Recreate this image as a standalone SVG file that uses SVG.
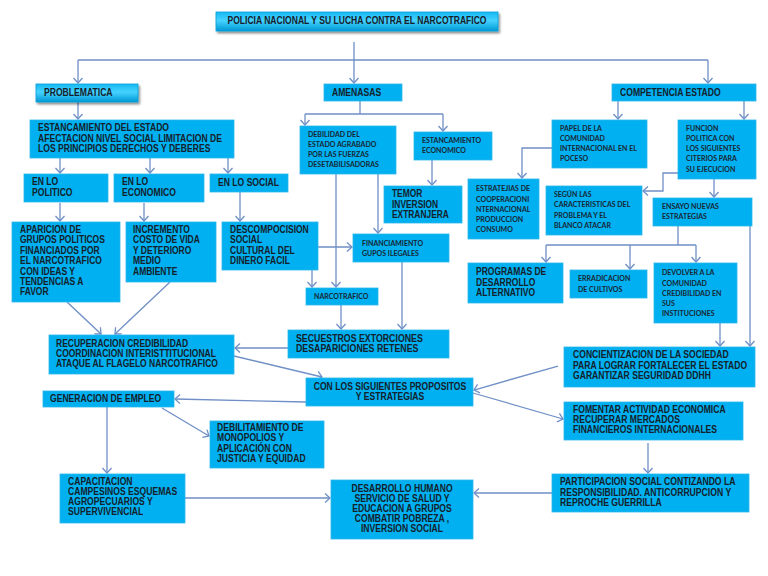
<svg xmlns="http://www.w3.org/2000/svg" width="768" height="576" viewBox="0 0 768 576">
<style>
.b{fill:#00B0F0;stroke:#2cb6ea;stroke-width:0.8}
.t{font-family:"Liberation Sans",Arial,sans-serif;font-weight:bold;font-size:10px;fill:#15202b}
.s{font-family:Lato,"Open Sans",sans-serif;font-weight:bold;font-size:7px;fill:#1a2633}
.m{text-anchor:middle}
.c{fill:none;stroke:#6f8fc6;stroke-width:1.3}
.a{marker-end:url(#ar)}
</style>
<defs>
<marker id="ar" markerUnits="userSpaceOnUse" markerWidth="12" markerHeight="12" refX="6" refY="6" orient="auto" viewBox="0 0 12 12">
<path d="M1,1.5 L6,6 L1,10.5" fill="none" stroke="#6f8fc6" stroke-width="1.3"/>
</marker>
<linearGradient id="g" x1="0" y1="0" x2="0" y2="1">
<stop offset="0" stop-color="#16b9f2"/>
<stop offset="0.45" stop-color="#45d2ff"/>
<stop offset="1" stop-color="#0098d4"/>
</linearGradient>
<filter id="sh" x="-10%" y="-30%" width="120%" height="180%">
<feDropShadow dx="1.5" dy="2" stdDeviation="1" flood-color="#000" flood-opacity="0.45"/>
</filter>
</defs>
<rect width="768" height="576" fill="#fff"/>

<g id="connectors">
<path class="c a" d="M354,42 V83"/>
<path class="c" d="M78,60 H708"/>
<path class="c a" d="M78,60 V83"/>
<path class="c a" d="M708,60 V83"/>
<path class="c a" d="M78,102 V119"/>
<path class="c a" d="M60,158 V173"/>
<path class="c a" d="M150,158 V173"/>
<path class="c a" d="M228,158 V173"/>
<path class="c a" d="M60,203 V221"/>
<path class="c a" d="M144,203 V221"/>
<path class="c a" d="M240,192 V221"/>
<path class="c a" d="M67,302 L101,334"/>
<path class="c a" d="M170,282 L115,334"/>
<path class="c" d="M360,101 V114 M305,114 H443"/>
<path class="c a" d="M305,114 V125"/>
<path class="c a" d="M443,114 V131"/>
<path class="c a" d="M432,160 V185"/>
<path class="c a" d="M378,174 V233"/>
<path class="c a" d="M336,174 V287"/>
<path class="c a" d="M312,270 V287"/>
<path class="c a" d="M318,247 H352"/>
<path class="c a" d="M341,305 V329"/>
<path class="c a" d="M402,262 V329"/>
<path class="c a" d="M288,348 H235"/>
<path class="c a" d="M234,356 L322,377"/>
<path class="c a" d="M306,402 L175,399"/>
<path class="c a" d="M162,408 L209,436"/>
<path class="c a" d="M107,407 V473"/>
<path class="c a" d="M185,498 H330"/>
<path class="c a" d="M552,493 H474"/>
<path class="c a" d="M648,443 V473"/>
<path class="c a" d="M473,393 L563,419"/>
<path class="c a" d="M558,366 L474,390"/>
<path class="c a" d="M618,101 V119"/>
<path class="c a" d="M744,101 V119"/>
<path class="c a" d="M552,148 H522 V178"/>
<path class="c a" d="M678,173 H663 V191 H643"/>
<path class="c a" d="M714,179 V197"/>
<path class="c" d="M678,226 V245 M546,245 H696"/>
<path class="c a" d="M546,245 V262"/>
<path class="c a" d="M630,245 V269"/>
<path class="c a" d="M696,245 V262"/>
<path class="c a" d="M720,323 V346"/>
<path class="c a" d="M750,226 V346"/>
</g>

<g id="title">
<rect x="216" y="12" width="282" height="19" fill="url(#g)" stroke="#0a9fd8" stroke-width="0.8" filter="url(#sh)"/>
<g transform="translate(357 0) scale(0.855 1)"><text class="t m" x="0" y="24.5">POLICIA NACIONAL  Y SU LUCHA CONTRA EL NARCOTRAFICO</text></g>
</g>
<g id="problematica">
<rect x="36" y="84" width="102" height="18" style="fill:url(#g);stroke:#0a9fd8;stroke-width:0.8" filter="url(#sh)"/>
<g transform="translate(44 0) scale(0.86 1)"><text class="t" x="0" y="96.5">PROBLEMATICA</text></g>
</g>
<g id="amenasas">
<rect class="b" x="324" y="84" width="78" height="17"/>
<g transform="translate(332 0) scale(0.86 1)"><text class="t" x="0" y="96.5">AMENASAS</text></g>
</g>
<g id="competencia">
<rect class="b" x="612" y="84" width="144" height="17"/>
<g transform="translate(620 0) scale(0.86 1)"><text class="t" x="0" y="96.5">COMPETENCIA ESTADO</text></g>
</g>
<g id="estancamiento">
<rect class="b" x="30" y="120" width="204" height="38"/>
<g transform="translate(38 0) scale(0.86 1)">
<text class="t" x="0" y="131">ESTANCAMIENTO DEL ESTADO</text>
<text class="t" x="0" y="142">AFECTACION NIVEL SOCIAL LIMITACION DE</text>
<text class="t" x="0" y="152.5">LOS PRINCIPIOS DERECHOS Y DEBERES</text>
</g>
</g>
<g id="politico">
<rect class="b" x="24" y="174" width="84" height="28"/>
<g transform="translate(32 0) scale(0.86 1)">
<text class="t" x="0" y="185.5">EN LO</text>
<text class="t" x="0" y="196">POLITICO</text>
</g>
</g>
<g id="economico">
<rect class="b" x="114" y="174" width="90" height="28"/>
<g transform="translate(122 0) scale(0.86 1)">
<text class="t" x="0" y="185.5">EN LO</text>
<text class="t" x="0" y="196">ECONOMICO</text>
</g>
</g>
<g id="social">
<rect class="b" x="210" y="174" width="78" height="18"/>
<g transform="translate(218 0) scale(0.86 1)"><text class="t" x="0" y="186">EN LO SOCIAL</text></g>
</g>
<g id="aparicion">
<rect class="b" x="12" y="222" width="108" height="80"/>
<g transform="translate(20 0) scale(0.85 1)">
<text class="t" x="0" y="233">APARICION DE</text>
<text class="t" x="0" y="243.4">GRUPOS POLITICOS</text>
<text class="t" x="0" y="253.8">FINANCIADOS POR</text>
<text class="t" x="0" y="264.2">EL NARCOTRAFICO</text>
<text class="t" x="0" y="274.6">CON IDEAS Y</text>
<text class="t" x="0" y="285">TENDENCIAS A</text>
<text class="t" x="0" y="295.4">FAVOR</text>
</g>
</g>
<g id="incremento">
<rect class="b" x="126" y="222" width="90" height="60"/>
<g transform="translate(133 0) scale(0.85 1)">
<text class="t" x="0" y="233">INCREMENTO</text>
<text class="t" x="0" y="243.4">COSTO DE VIDA</text>
<text class="t" x="0" y="253.8">Y DETERIORO</text>
<text class="t" x="0" y="264.2">MEDIO</text>
<text class="t" x="0" y="274.6">AMBIENTE</text>
</g>
</g>
<g id="descomposicion">
<rect class="b" x="222" y="222" width="96" height="48"/>
<g transform="translate(230 0) scale(0.85 1)">
<text class="t" x="0" y="233">DESCOMPOCISION</text>
<text class="t" x="0" y="243.4">SOCIAL</text>
<text class="t" x="0" y="253.8">CULTURAL DEL</text>
<text class="t" x="0" y="264.2">DINERO FACIL</text>
</g>
</g>
<g id="debilidad">
<rect class="b" x="300" y="126" width="96" height="48"/>
<text class="s" x="308" y="137">DEBILIDAD DEL</text>
<text class="s" x="308" y="147">ESTADO AGRABADO</text>
<text class="s" x="308" y="157">POR LAS FUERZAS</text>
<text class="s" x="308" y="167">DESETABILISADORAS</text>
</g>
<g id="estancamiento-economico">
<rect class="b" x="414" y="132" width="78" height="28"/>
<text class="s" x="422" y="143">ESTANCAMIENTO</text>
<text class="s" x="422" y="153">ECONOMICO</text>
</g>
<g id="temor">
<rect class="b" x="384" y="186" width="78" height="37"/>
<g transform="translate(392 0) scale(0.84 1)">
<text class="t" x="0" y="197.5">TEMOR</text>
<text class="t" x="0" y="208">INVERSION</text>
<text class="t" x="0" y="218.5">EXTRANJERA</text>
</g>
</g>
<g id="financiamiento">
<rect class="b" x="353" y="234" width="96" height="28"/>
<text class="s" x="362" y="245.5">FINANCIAMIENTO</text>
<text class="s" x="362" y="255.5">GUPOS ILEGALES</text>
</g>
<g id="narcotrafico">
<rect class="b" x="306" y="288" width="72" height="17"/>
<text class="s" x="314" y="298.5">NARCOTRAFICO</text>
</g>
<g id="secuestros">
<rect class="b" x="288" y="330" width="161" height="28"/>
<g transform="translate(296 0) scale(0.88 1)">
<text class="t" x="0" y="342">SECUESTROS   EXTORCIONES</text>
<text class="t" x="0" y="352.5">DESAPARICIONES RETENES</text>
</g>
</g>
<g id="papel">
<rect class="b" x="552" y="120" width="95" height="48"/>
<text class="s" x="560" y="131">PAPEL DE LA</text>
<text class="s" x="560" y="141">COMUNIDAD</text>
<text class="s" x="560" y="151">INTERNACIONAL EN EL</text>
<text class="s" x="560" y="161">POCESO</text>
</g>
<g id="funcion">
<rect class="b" x="678" y="120" width="78" height="59"/>
<text class="s" x="686" y="131">FUNCION</text>
<text class="s" x="686" y="141">POLITICA CON</text>
<text class="s" x="686" y="151">LOS SIGUIENTES</text>
<text class="s" x="686" y="161">CITERIOS PARA</text>
<text class="s" x="686" y="171.5">SU EJECUCION</text>
</g>
<g id="estratejias">
<rect class="b" x="468" y="179" width="71" height="60"/>
<text class="s" x="476" y="191">ESTRATEJIAS DE</text>
<text class="s" x="476" y="201.5">COOPERACIONI</text>
<text class="s" x="476" y="211.5">NTERNACIONAL</text>
<text class="s" x="476" y="221.5">PRODUCCION</text>
<text class="s" x="476" y="231.5">CONSUMO</text>
</g>
<g id="segun">
<rect class="b" x="546" y="186" width="96" height="49"/>
<text class="s" x="554" y="197">SEGÚN LAS</text>
<text class="s" x="554" y="207">CARACTERISTICAS DEL</text>
<text class="s" x="554" y="217.5">PROBLEMA Y EL</text>
<text class="s" x="554" y="227.5">BLANCO ATACAR</text>
</g>
<g id="ensayo">
<rect class="b" x="653" y="198" width="99" height="28"/>
<text class="s" x="662" y="209">ENSAYO NUEVAS</text>
<text class="s" x="662" y="219">ESTRATEGIAS</text>
</g>
<g id="programas">
<rect class="b" x="468" y="263" width="95" height="40"/>
<g transform="translate(476 0) scale(0.85 1)">
<text class="t" x="0" y="275.5">PROGRAMAS DE</text>
<text class="t" x="0" y="286">DESARROLLO</text>
<text class="t" x="0" y="296.5">ALTERNATIVO</text>
</g>
</g>
<g id="erradicacion">
<rect class="b" x="570" y="270" width="77" height="28"/>
<text class="s" x="578" y="281">ERRADICACION</text>
<text class="s" x="578" y="292">DE CULTIVOS</text>
</g>
<g id="devolver">
<rect class="b" x="654" y="263" width="83" height="60"/>
<text class="s" x="662" y="275">DEVOLVER A LA</text>
<text class="s" x="662" y="285.5">COMUNIDAD</text>
<text class="s" x="662" y="295.5">CREDIBILIDAD EN</text>
<text class="s" x="662" y="306">SUS</text>
<text class="s" x="662" y="316">INSTITUCIONES</text>
</g>
<g id="concientizacion">
<rect class="b" x="564" y="347" width="191" height="40"/>
<g transform="translate(573 0) scale(0.86 1)">
<text class="t" x="0" y="358.5">CONCIENTIZACION DE LA SOCIEDAD</text>
<text class="t" x="0" y="369">PARA LOGRAR FORTALECER EL ESTADO</text>
<text class="t" x="0" y="379.5">GARANTIZAR SEGURIDAD DDHH</text>
</g>
</g>
<g id="fomentar">
<rect class="b" x="564" y="402" width="179" height="38"/>
<g transform="translate(573 0) scale(0.86 1)">
<text class="t" x="0" y="413.5">FOMENTAR ACTIVIDAD ECONOMICA</text>
<text class="t" x="0" y="423.5">RECUPERAR MERCADOS</text>
<text class="t" x="0" y="433.5">FINANCIEROS INTERNACIONALES</text>
</g>
</g>
<g id="propositos">
<rect class="b" x="306" y="378" width="167" height="28"/>
<g transform="translate(390 0) scale(0.86 1)">
<text class="t m" x="0" y="390">CON LOS SIGUIENTES PROPOSITOS</text>
<text class="t m" x="0" y="400.5">Y ESTRATEGIAS</text>
</g>
</g>
<g id="recuperacion">
<rect class="b" x="49" y="335" width="185" height="39"/>
<g transform="translate(56 0) scale(0.85 1)">
<text class="t" x="0" y="347.5">RECUPERACION CREDIBILIDAD</text>
<text class="t" x="0" y="357.5">COORDINACION INTERISTTITUCIONAL</text>
<text class="t" x="0" y="367.5">ATAQUE  AL FLAGELO NARCOTRAFICO</text>
</g>
</g>
<g id="generacion">
<rect class="b" x="43" y="391" width="131" height="16"/>
<g transform="translate(50 0) scale(0.86 1)"><text class="t" x="0" y="402.5">GENERACION DE EMPLEO</text></g>
</g>
<g id="debilitamiento">
<rect class="b" x="210" y="421" width="114" height="47"/>
<g transform="translate(217 0) scale(0.86 1)">
<text class="t" x="0" y="431">DEBILITAMIENTO DE</text>
<text class="t" x="0" y="441.5">MONOPOLIOS Y</text>
<text class="t" x="0" y="452">APLICACIÓN CON</text>
<text class="t" x="0" y="462.5">JUSTICIA Y EQUIDAD</text>
</g>
</g>
<g id="capacitacion">
<rect class="b" x="60" y="474" width="125" height="49"/>
<g transform="translate(68 0) scale(0.86 1)">
<text class="t" x="0" y="485.5">CAPACITACION</text>
<text class="t" x="0" y="495.5">CAMPESINOS ESQUEMAS</text>
<text class="t" x="0" y="505.5">AGROPECUARIOS Y</text>
<text class="t" x="0" y="515.5">SUPERVIVENCIAL</text>
</g>
</g>
<g id="desarrollo">
<rect class="b" x="331" y="480" width="142" height="59"/>
<g transform="translate(402 0) scale(0.86 1)">
<text class="t m" x="0" y="492.5">DESARROLLO HUMANO</text>
<text class="t m" x="0" y="502.5">SERVICIO DE SALUD Y</text>
<text class="t m" x="0" y="512.5">EDUCACION A GRUPOS</text>
<text class="t m" x="0" y="522.5">COMBATIR POBREZA ,</text>
<text class="t m" x="0" y="532.5">INVERSION SOCIAL</text>
</g>
</g>
<g id="participacion">
<rect class="b" x="552" y="474" width="197" height="38"/>
<g transform="translate(560 0) scale(0.865 1)">
<text class="t" x="0" y="485.5">PARTICIPACION SOCIAL CONTIZANDO  LA</text>
<text class="t" x="0" y="496">RESPONSIBILIDAD. ANTICORRUPCION Y</text>
<text class="t" x="0" y="506">REPROCHE GUERRILLA</text>
</g>
</g>
</svg>
